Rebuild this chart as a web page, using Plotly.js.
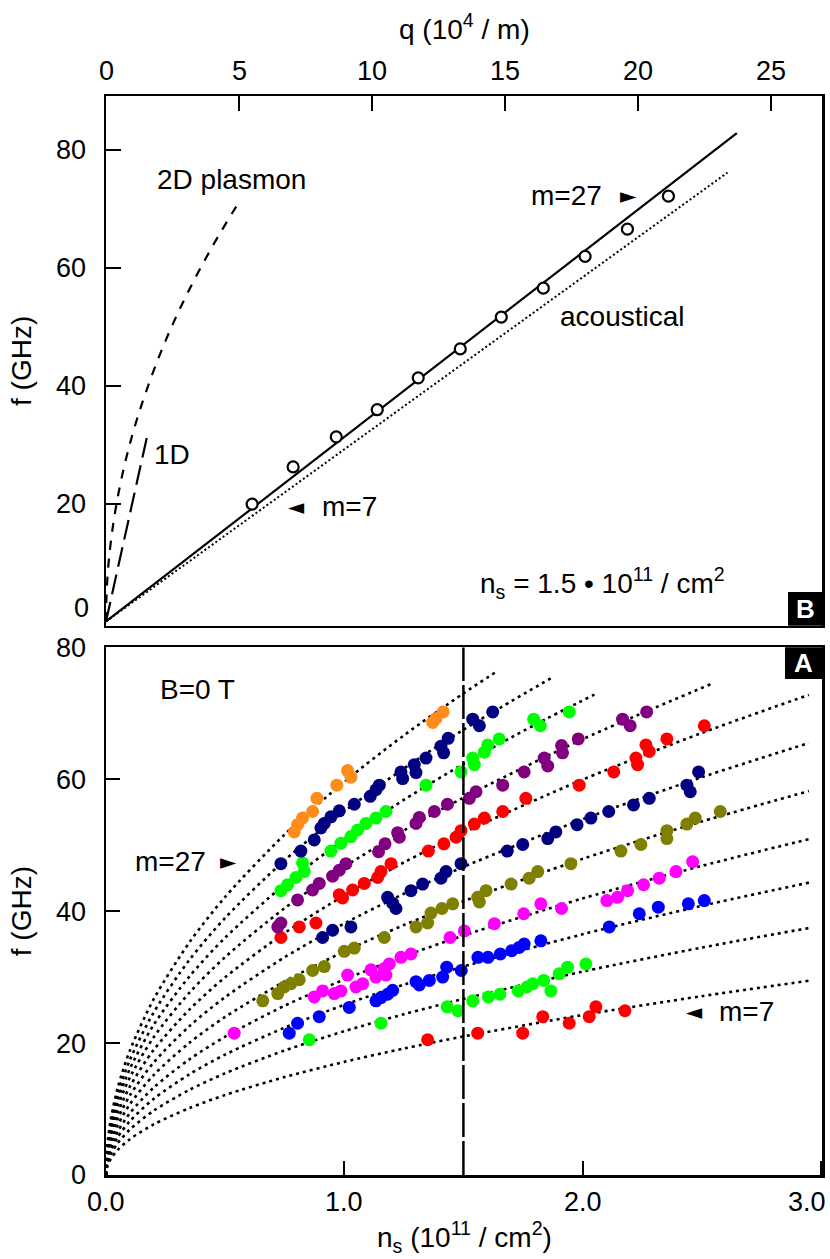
<!DOCTYPE html>
<html><head><meta charset="utf-8">
<script src="https://cdn.plot.ly/plotly-3.0.1.min.js"></script>
<style>html,body{margin:0;padding:0;background:#fff}#chart{width:830px;height:1259px}</style>
</head><body><div id="chart"></div>
<script>
// ===== Panel B (top): f vs q =====
const modeQ = [5.49, 7.03, 8.65, 10.19, 11.73, 13.31, 14.85, 16.43, 18.0, 19.59, 21.13];
const modeF = [19.9, 26.2, 31.3, 35.9, 41.3, 46.2, 51.6, 56.5, 61.9, 66.5, 72.1];
const fitQ = [0, 23.7];
const fitF = [0, 82.8];
const acousticQ = [0, 23.35];
const acousticF = [0, 76.1];
const plasmon2DQ = [0, 0.02, 0.1, 0.3, 0.6, 1.0, 1.5, 2.2, 3.0, 4.0, 5.05];
const plasmon2DF = [0, 4.5, 10.1, 17.4, 24.6, 31.8, 38.9, 47.2, 55.1, 63.6, 71.5];
const plasmon1DQ = [0, 1.55];
const plasmon1DF = [0, 31.5];
const qTicks = [0, 5, 10, 15, 20, 25];
const qTickLabels = ["0", "5", "10", "15", "20", "25"];

// ===== Panel A (bottom): f vs n_s =====
const nsMarker = 1.5;
const nsTicks = [0, 1, 2, 3];
const nsTickLabels = ["0.0", "1.0", "2.0", "3.0"];
const modeNames = ["m=7","m=9","m=11","m=13","m=15","m=17","m=19","m=21","m=23","m=25","m=27"];
const modeColors = ["#ff0000","#00ff00","#0000ff","#ff00ff","#808000","#000080","#ff0000","#800080","#00ff00","#000080","#ff8c1a"];

// dotted theory curves
const theoryN_m7  = [0,0.005,0.02,0.05,0.1,0.2,0.35,0.5,0.75,1.0,1.25,1.5,2.0,2.5,2.95];
const theoryF_m7  = [0,1.21,2.43,3.83,5.42,7.67,10.14,12.13,14.85,17.15,19.17,21.0,24.25,27.11,29.45];
const theoryN_m9  = [0,0.005,0.02,0.05,0.1,0.2,0.35,0.5,0.75,1.0,1.25,1.5,2.0,2.5,2.95];
const theoryF_m9  = [0,1.54,3.08,4.88,6.89,9.75,12.90,15.42,18.88,21.80,24.37,26.7,30.83,34.47,37.44];
const theoryN_m11 = [0,0.005,0.02,0.05,0.1,0.2,0.35,0.5,0.75,1.0,1.25,1.5,2.0,2.5,2.95];
const theoryF_m11 = [0,1.82,3.65,5.77,8.16,11.54,15.26,18.25,22.34,25.80,28.85,31.6,36.49,40.80,44.32];
const theoryN_m13 = [0,0.005,0.02,0.05,0.1,0.2,0.35,0.5,0.75,1.0,1.25,1.5,2.0,2.5,2.95];
const theoryF_m13 = [0,2.09,4.19,6.63,9.37,13.25,17.53,20.96,25.67,29.64,33.14,36.3,41.92,46.86,50.91];
const theoryN_m15 = [0,0.005,0.02,0.05,0.1,0.2,0.35,0.5,0.75,1.0,1.25,1.5,2.0,2.5,2.95];
const theoryF_m15 = [0,2.39,4.79,7.58,10.72,15.15,20.04,23.96,29.34,33.88,37.89,41.5,47.92,53.58,58.20];
const theoryN_m17 = [0,0.005,0.02,0.05,0.1,0.2,0.35,0.5,0.75,1.0,1.25,1.5,2.0,2.5,2.95];
const theoryF_m17 = [0,2.69,5.39,8.53,12.06,17.05,22.56,26.96,33.02,38.13,42.63,46.7,53.92,60.29,65.49];
const theoryN_m19 = [0,0.005,0.02,0.05,0.1,0.2,0.35,0.5,0.75,1.0,1.25,1.5,2.0,2.5,2.95];
const theoryF_m19 = [0,2.99,5.99,9.48,13.40,18.95,25.07,29.97,36.70,42.38,47.38,51.9,59.93,67.00,72.78];
const theoryN_m21 = [0,0.005,0.02,0.05,0.1,0.2,0.35,0.5,0.75,1.0,1.25,1.5,2.0,2.54];
const theoryF_m21 = [0,3.30,6.61,10.44,14.77,20.88,27.63,33.03,40.45,46.70,52.22,57.2,66.05,74.43];
const theoryN_m23 = [0,0.005,0.02,0.05,0.1,0.2,0.35,0.5,0.75,1.0,1.25,1.5,1.8,2.05];
const theoryF_m23 = [0,3.59,7.20,11.38,16.09,22.75,30.09,35.97,44.05,50.87,56.87,62.3,68.25,72.83];
const theoryN_m25 = [0,0.005,0.02,0.05,0.1,0.2,0.35,0.5,0.75,1.0,1.25,1.5,1.88];
const theoryF_m25 = [0,3.89,7.80,12.33,17.43,24.64,32.60,38.97,47.73,55.11,61.62,67.5,75.57];
const theoryN_m27 = [0,0.005,0.02,0.05,0.1,0.2,0.35,0.5,0.75,1.0,1.25,1.5,1.64];
const theoryF_m27 = [0,4.21,8.43,13.33,18.85,26.65,35.26,42.15,51.62,59.60,66.64,73.0,76.33];

// measured points
const dotsN_m7  = [2.178,2.056,2.028,1.944,1.833,1.749,1.560,1.350];
const dotsF_m7  = [24.9,25.5,24.0,23.0,24.0,21.5,21.5,20.5];
const dotsN_m9  = [2.014,1.937,1.902,1.867,1.837,1.791,1.767,1.730,1.653,1.605,1.539,1.477,1.432,1.154,0.853];
const dotsF_m9  = [32.0,31.5,30.5,27.9,29.5,29.0,28.5,27.9,27.4,27.0,26.4,24.9,25.5,23.0,20.5];
const dotsN_m11 = [2.511,2.444,2.318,2.238,2.112,1.825,1.755,1.734,1.703,1.655,1.603,1.561,1.491,1.430,1.413,1.357,1.315,1.301,1.203,1.182,1.154,1.133,1.021,0.895,0.804,0.769];
const dotsF_m11 = [41.6,41.1,40.6,39.6,37.6,35.5,35.0,34.5,34.0,33.5,33.0,33.0,31.0,31.5,30.0,29.5,28.8,29.3,28.0,27.4,26.9,26.4,25.4,24.0,23.0,21.5];
const dotsN_m13 = [2.462,2.392,2.322,2.256,2.189,2.147,2.102,1.912,1.825,1.753,1.630,1.504,1.444,1.280,1.238,1.189,1.168,1.175,1.133,1.112,1.077,1.049,1.014,0.986,0.958,0.909,0.874,0.538];
const dotsF_m13 = [47.5,46.0,45.0,44.0,43.1,42.1,41.6,40.4,41.1,39.6,38.1,37.0,36.0,33.5,33.0,32.0,31.3,30.3,30.0,31.1,29.0,28.5,30.3,27.9,27.5,27.9,27.0,21.5];
const dotsN_m15 = [2.578,2.473,2.438,2.354,2.354,2.245,2.161,1.951,1.812,1.776,1.700,1.595,1.560,1.567,1.455,1.410,1.364,1.350,1.301,1.168,1.042,1.000,0.916,0.867,0.811,0.776,0.748,0.721,0.658];
const dotsF_m15 = [55.1,54.1,53.2,52.2,51.0,50.1,49.1,47.2,46.0,45.0,44.1,43.1,42.1,41.4,41.1,40.4,39.7,38.2,37.6,36.0,34.4,33.9,31.6,31.0,29.6,29.0,28.5,27.5,26.4];
const dotsN_m17 = [2.487,2.438,2.452,2.280,2.214,2.110,2.035,1.977,1.888,1.854,1.749,1.684,1.490,1.427,1.406,1.329,1.280,1.182,1.203,1.217,1.028,0.951,0.909];
const dotsF_m17 = [61.1,59.1,58.1,57.1,56.1,55.1,54.1,53.1,52.0,51.0,50.1,49.1,47.2,46.0,45.0,44.1,43.1,42.1,41.2,40.4,37.6,37.1,36.0];
const dotsN_m19 = [2.511,2.354,2.266,2.280,2.224,2.231,2.131,1.986,1.762,1.665,1.588,1.546,1.490,1.469,1.418,1.353,1.196,1.154,1.140,1.084,1.035,0.993,0.979,0.881,0.811,0.734];
const dotsF_m19 = [68.1,66.1,65.2,64.2,63.2,62.2,61.1,59.1,57.1,55.1,54.1,53.2,52.2,51.2,50.2,49.1,47.2,46.0,45.1,44.2,43.2,42.0,42.5,38.2,37.6,36.0];
const dotsN_m21 = [2.269,2.168,2.200,1.982,1.912,1.916,1.839,1.854,1.755,1.665,1.553,1.525,1.433,1.378,1.315,1.301,1.224,1.231,1.171,1.144,1.007,0.979,0.951,0.895,0.867,0.804,0.734,0.721];
const dotsF_m21 = [70.2,69.1,68.1,66.1,65.1,64.0,63.2,62.0,61.1,59.1,58.1,57.1,56.2,55.1,54.2,53.3,51.9,51.2,50.2,49.0,47.2,46.2,45.3,44.2,43.2,41.7,38.2,37.6];
const dotsN_m23 = [1.944,1.795,1.823,1.650,1.602,1.588,1.539,1.546,1.490,1.343,1.175,1.133,1.091,1.056,1.028,0.986,0.944,0.825,0.832,0.797,0.762,0.734];
const dotsF_m23 = [70.2,69.1,68.1,66.1,65.2,64.1,63.2,62.2,61.1,59.1,55.1,54.1,53.3,52.3,51.3,50.3,49.1,47.3,46.0,45.1,44.0,43.1];
const dotsN_m25 = [1.623,1.539,1.567,1.436,1.406,1.417,1.343,1.294,1.301,1.238,1.245,1.147,1.133,1.109,1.042,0.979,0.944,0.916,0.902,0.874,0.818,0.734];
const dotsF_m25 = [70.2,69.1,68.1,66.2,65.0,64.0,63.2,62.2,61.0,61.1,60.1,59.1,58.4,57.4,56.2,55.2,54.3,53.3,52.6,50.8,49.1,47.2];
const dotsN_m27 = [1.371,1.385,1.415,1.014,1.028,0.969,0.885,0.867,0.825,0.804,0.790];
const dotsF_m27 = [68.6,69.2,70.2,61.3,60.3,59.1,57.1,55.1,54.1,53.1,52.0];

const theoryN = [theoryN_m7,theoryN_m9,theoryN_m11,theoryN_m13,theoryN_m15,theoryN_m17,theoryN_m19,theoryN_m21,theoryN_m23,theoryN_m25,theoryN_m27];
const theoryF = [theoryF_m7,theoryF_m9,theoryF_m11,theoryF_m13,theoryF_m15,theoryF_m17,theoryF_m19,theoryF_m21,theoryF_m23,theoryF_m25,theoryF_m27];
const dotsN = [dotsN_m7,dotsN_m9,dotsN_m11,dotsN_m13,dotsN_m15,dotsN_m17,dotsN_m19,dotsN_m21,dotsN_m23,dotsN_m25,dotsN_m27];
const dotsF = [dotsF_m7,dotsF_m9,dotsF_m11,dotsF_m13,dotsF_m15,dotsF_m17,dotsF_m19,dotsF_m21,dotsF_m23,dotsF_m25,dotsF_m27];

const FONT = "Liberation Sans, Arial, Helvetica, sans-serif";
const traces = [];

// bottom: theory curves
theoryN.forEach((n, i) => traces.push({
  type: "scatter", mode: "lines", x: n, y: theoryF[i], xaxis: "x", yaxis: "y",
  line: {color: "#000", width: 2.6, dash: "3px,4px", shape: "spline", smoothing: 0.8},
  name: modeNames[i] + " theory", showlegend: false, hoverinfo: "skip"
}));
// bottom: measured dots
dotsN.forEach((n, i) => traces.push({
  type: "scatter", mode: "markers", x: n, y: dotsF[i], xaxis: "x", yaxis: "y",
  marker: {color: modeColors[i], size: 13, line: {width: 0}},
  name: modeNames[i], showlegend: false
}));
// bottom: vertical dashed marker line
traces.push({type: "scatter", mode: "lines", x: [nsMarker, nsMarker], y: [0, 80], xaxis: "x", yaxis: "y",
  line: {color: "#000", width: 2.5, dash: "34px,4px"}, showlegend: false, hoverinfo: "skip"});

// top panel
traces.push({type: "scatter", mode: "lines", x: plasmon2DQ, y: plasmon2DF, xaxis: "x2", yaxis: "y2",
  line: {color: "#000", width: 2.2, dash: "9px,9px", shape: "spline"}, showlegend: false, name: "2D plasmon"});
traces.push({type: "scatter", mode: "lines", x: plasmon1DQ, y: plasmon1DF, xaxis: "x2", yaxis: "y2",
  line: {color: "#000", width: 2.2, dash: "20px,8px"}, showlegend: false, name: "1D"});
traces.push({type: "scatter", mode: "lines", x: acousticQ, y: acousticF, xaxis: "x2", yaxis: "y2",
  line: {color: "#000", width: 2, dash: "2px,2.5px"}, showlegend: false, name: "acoustical"});
traces.push({type: "scatter", mode: "lines", x: fitQ, y: fitF, xaxis: "x2", yaxis: "y2",
  line: {color: "#000", width: 2.2}, showlegend: false, name: "fit"});
traces.push({type: "scatter", mode: "markers", x: modeQ, y: modeF, xaxis: "x2", yaxis: "y2",
  marker: {color: "#fff", size: 11, line: {color: "#000", width: 2.2}}, showlegend: false, name: "modes"});

const tickFont = {family: FONT, size: 27, color: "#000"};
const titleFont = {family: FONT, size: 28, color: "#000"};
const annFont = {family: FONT, size: 28, color: "#000"};
const triFont = {family: "DejaVu Sans, sans-serif", size: 21, color: "#000"};

function ann(text, x, y, xanchor, font) {
  return {text, x, y, xref: "paper", yref: "paper", xanchor: xanchor || "left", yanchor: "middle",
    showarrow: false, font: font || annFont};
}

// tick labels of the two horizontal axes, placed at their tick values
const tickAnns = [];
qTicks.forEach((v, i) => tickAnns.push({text: qTickLabels[i], x: v, y: 1.0232, xref: "x2", yref: "paper",
  xanchor: "center", yanchor: "middle", showarrow: false, font: tickFont}));
nsTicks.forEach((v, i) => tickAnns.push({text: nsTickLabels[i], x: v, y: -0.025, xref: "x", yref: "paper",
  xanchor: i === nsTicks.length - 1 ? "right" : "center", xshift: i === nsTicks.length - 1 ? 7 : 0,
  yanchor: "middle", showarrow: false, font: tickFont}));

const layout = {
  width: 830, height: 1259,
  margin: {l: 106, r: 8, t: 96, b: 84},
  paper_bgcolor: "#fff", plot_bgcolor: "#fff",
  showlegend: false, hovermode: false,
  xaxis: {domain: [0, 1], anchor: "y", range: [0, 3.005], tickvals: nsTicks, showticklabels: false,
    ticks: "inside", ticklen: 14, tickwidth: 2, tickcolor: "#000", showgrid: false, zeroline: false,
    showline: true, linewidth: 2.5, linecolor: "#000", mirror: true},
  yaxis: {domain: [0, 0.4891], anchor: "x", range: [0, 80], tickvals: [0, 20, 40, 60, 80],
    ticks: "inside", ticklen: 14, tickwidth: 2, tickcolor: "#000", showgrid: false, zeroline: false,
    showline: true, linewidth: 2.5, linecolor: "#000", mirror: true, tickfont: tickFont, ticklabelstandoff: 12,
    title: {text: "f (GHz)", font: titleFont, standoff: 16}},
  xaxis2: {domain: [0, 1], anchor: "y2", side: "top", range: [0, 26.9], tickvals: qTicks, showticklabels: false,
    ticks: "inside", ticklen: 15, tickwidth: 2, tickcolor: "#000", showgrid: false, zeroline: false,
    showline: true, linewidth: 2.5, linecolor: "#000", mirror: true},
  yaxis2: {domain: [0.5091, 1], anchor: "x2", range: [-0.71, 89.08], tickvals: [20, 40, 60, 80],
    ticks: "inside", ticklen: 15, tickwidth: 2, tickcolor: "#000", showgrid: false, zeroline: false,
    showline: true, linewidth: 2.5, linecolor: "#000", mirror: true, tickfont: tickFont, ticklabelstandoff: 12,
    title: {text: "f (GHz)", font: titleFont, standoff: 16}},
  shapes: [
    {type: "rect", xref: "paper", yref: "paper", x0: 0.9525, x1: 1, y0: 0.5091, y1: 0.5403,
      fillcolor: "#000", line: {width: 0}},
    {type: "rect", xref: "paper", yref: "paper", x0: 0.9483, x1: 1, y0: 0.4597, y1: 0.4891,
      fillcolor: "#000", line: {width: 0}}
  ],
  annotations: tickAnns.concat([
    ann("q (10<sup>4</sup> / m)", 0.5, 1.064, "center", titleFont),
    ann("n<sub>s</sub> (10<sup>11</sup> / cm<sup>2</sup>)", 0.5, -0.0575, "center", titleFont),
    ann("0", -0.021, 0.5255, "right", tickFont),
    ann("2D plasmon", 0.0684, 0.9222),
    ann("m=27", 0.5908, 0.9074),
    ann("\u25BA", 0.7304, 0.9074, "center", triFont),
    ann("acoustical", 0.6313, 0.7953),
    ann("1D", 0.0642, 0.6673),
    ann("\u25C4", 0.2654, 0.6191, "center", triFont),
    ann("m=7", 0.2989, 0.6191),
    ann("n<sub>s</sub> = 1.5 \u2022 10<sup>11</sup> / cm<sup>2</sup>", 0.5196, 0.5487),
    ann("<b>B</b>", 0.9763, 0.5246, "center", {family: FONT, size: 26, color: "#fff"}),
    ann("<b>A</b>", 0.9742, 0.4745, "center", {family: FONT, size: 26, color: "#fff"}),
    ann("B=0 T", 0.0726, 0.4495),
    ann("m=27", 0.0377, 0.2901),
    ann("\u25BA", 0.1704, 0.2901, "center", triFont),
    ann("\u25C4", 0.8226, 0.1511, "center", triFont),
    ann("m=7", 0.8534, 0.1511)
  ])
};

Plotly.newPlot("chart", traces, layout, {staticPlot: true, displayModeBar: false});
</script>
</body></html>
